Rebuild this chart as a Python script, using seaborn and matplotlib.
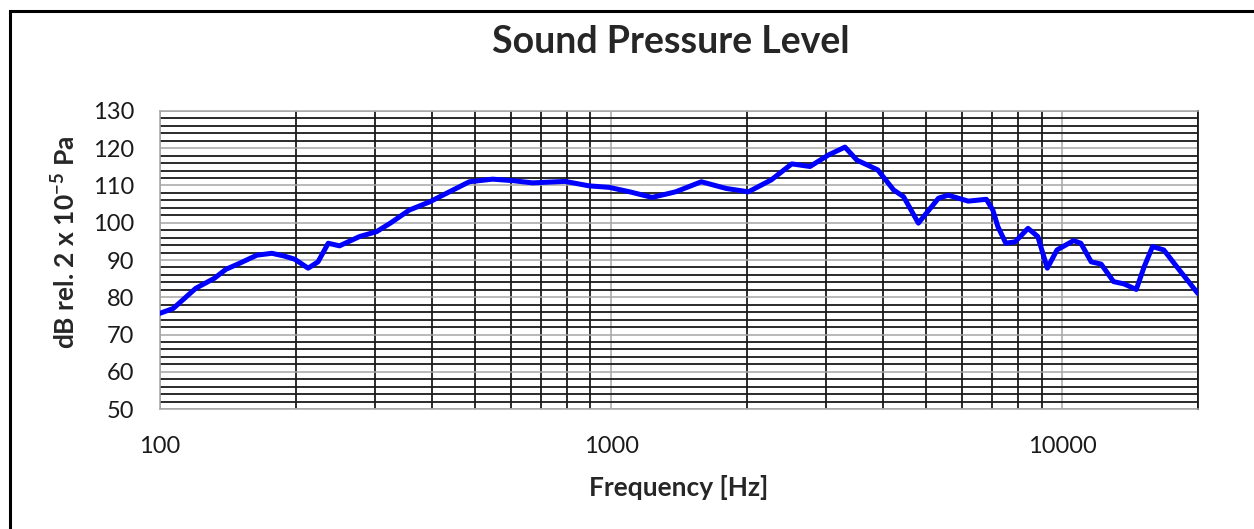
import numpy as np
import pandas as pd
import seaborn as sns
import matplotlib.pyplot as plt
from matplotlib.patches import Rectangle
from matplotlib.ticker import FixedLocator, FixedFormatter, NullFormatter

# values
freq_hz = [100, 107, 120, 132, 140, 150, 164, 177, 188, 199, 213, 224, 236, 250,
           277, 302, 325, 357, 396, 438, 485, 546, 605, 670, 790, 894, 990, 1100,
           1233, 1390, 1585, 1800, 2016, 2265, 2515, 2760, 3034, 3300, 3508, 3900,
           4230, 4450, 4800, 5320, 5590, 6190, 6790, 7020, 7200, 7500, 7870, 8400,
           8830, 9270, 9740, 10600, 11000, 11600, 12200, 13000, 13700, 14600,
           15200, 15860, 16800, 18300, 20000]
spl_db = [75.7, 77.0, 82.4, 85.1, 87.5, 89.1, 91.3, 91.8, 91.1, 90.2, 87.8, 89.5,
          94.5, 93.8, 96.3, 97.6, 100.0, 103.4, 105.6, 108.3, 111.0, 111.7, 111.3,
          110.7, 111.1, 109.9, 109.5, 108.3, 106.8, 108.3, 111.0, 109.2, 108.3,
          111.5, 115.8, 115.1, 118.2, 120.3, 116.8, 114.2, 108.8, 107.0, 99.9,
          106.6, 107.4, 105.8, 106.3, 103.4, 99.0, 94.5, 94.9, 98.5, 96.3, 87.8,
          92.7, 95.2, 94.5, 89.5, 88.9, 84.2, 83.6, 82.1, 88.2, 93.6, 92.7, 86.9,
          81.0]

major_x = [100, 1000, 10000]
x_labels = ['100', '1000', '10000']
minor_x = [200, 300, 400, 500, 600, 700, 800, 900,
           2000, 3000, 4000, 5000, 6000, 7000, 8000, 9000, 20000]

sns.set_style('white')
plt.rcParams['font.family'] = ['Lato', 'DejaVu Sans']
plt.rcParams['mathtext.fontset'] = 'custom'
plt.rcParams['mathtext.rm'] = 'Lato'
plt.rcParams['mathtext.bf'] = 'Lato:bold'

df = pd.DataFrame({'Frequency [Hz]': freq_hz, 'SPL': spl_db})

fig = plt.figure(figsize=(12.54, 5.29), dpi=100)
ax = fig.add_axes([0.1276, 0.2268, 0.8277, 0.5634])

sns.lineplot(x='Frequency [Hz]', y='SPL', data=df, ax=ax, color='#0000ff',
             lw=3.6, solid_joinstyle='round', solid_capstyle='round', zorder=5)

ax.set_xscale('log')
ax.set_xlim(100, 20000)
ax.set_ylim(50, 130)

ax.xaxis.set_major_locator(FixedLocator(major_x))
ax.xaxis.set_major_formatter(FixedFormatter(x_labels))
ax.xaxis.set_minor_locator(FixedLocator(minor_x))
ax.xaxis.set_minor_formatter(NullFormatter())
ax.yaxis.set_major_locator(FixedLocator(np.arange(50, 131, 10)))
ax.yaxis.set_minor_locator(FixedLocator([v for v in range(50, 131, 2) if v % 10]))

ax.grid(which='major', color='#a6a6a6', lw=1.1, zorder=1)
ax.grid(which='minor', color='#1a1a1a', lw=1.3, zorder=1)
ax.set_axisbelow(True)

ax.tick_params(axis='both', which='major', direction='out', length=5.5, width=1,
               color='#a6a6a6', labelsize=17, labelcolor='#1a1a1a')
ax.tick_params(axis='both', which='minor', length=0)
ax.tick_params(axis='x', which='major', pad=14)
ax.tick_params(axis='y', which='major', pad=13)

for side in ['top', 'left', 'bottom']:
    ax.spines[side].set_color('#a6a6a6')
    ax.spines[side].set_linewidth(1.1)
ax.spines['right'].set_color('#1a1a1a')
ax.spines['right'].set_linewidth(1.3)

ax.set_xlabel('Frequency [Hz]', fontsize=19, fontweight='bold', labelpad=13)
ax.set_ylabel(r'dB rel. 2 x 10$^{\mathbf{-5}}$ Pa', fontsize=19, fontweight='bold')
ax.yaxis.set_label_coords(-0.078, 0.56)
fig.text(0.535, 0.921, 'Sound Pressure Level', ha='center', va='center',
         fontsize=27, fontweight='bold')

# outer chart frame (only left and top edges are visible in the reference)
fig.patches.append(Rectangle((10 / 1254, -0.5), 1.5, 1.5 - 11 / 529,
                             transform=fig.transFigure, fill=False,
                             edgecolor='black', lw=2.2))

fig.savefig('out.png', dpi=100)
